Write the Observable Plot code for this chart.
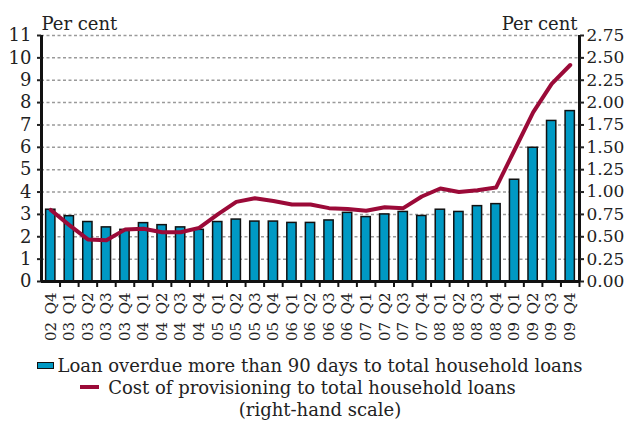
<!DOCTYPE html>
<html>
<head>
<meta charset="utf-8">
<script src="https://cdn.jsdelivr.net/npm/d3@7"></script>
<script src="https://cdn.jsdelivr.net/npm/@observablehq/plot@0.6"></script>
<style>
  body { margin: 0; background: #fff; }
  #wrap { position: relative; width: 630px; height: 425px; font-family: "DejaVu Serif", "Liberation Serif", serif; color: #222; }
  #legend { position: absolute; top: 355px; left: 0; width: 630px; font-size: 18px; line-height: 22px; text-align: center; }
  #legend div { position: relative; white-space: nowrap; }
  .sw-bar { display: inline-block; width: 15px; height: 5px; background: #0099c4; border: 1.5px solid #111; vertical-align: 3px; margin-right: 3px; }
  .sw-line { display: inline-block; width: 19px; height: 4px; background: #9b0a38; vertical-align: 5px; margin-right: 9px; }
  #chart svg text { font-family: "DejaVu Serif", "Liberation Serif", serif; }
</style>
</head>
<body>
<div id="wrap">
  <div id="chart"></div>
  <div id="legend">
    <div style="left:-5px"><span class="sw-bar"></span>Loan overdue more than 90 days to total household loans</div>
    <div style="left:-17px"><span class="sw-line"></span>Cost of provisioning to total household loans</div>
    <div style="left:5px">(right-hand scale)</div>
  </div>
</div>
<script>
const quarters = ["02 Q4","03 Q1","03 Q2","03 Q3","03 Q4","04 Q1","04 Q2","04 Q3","04 Q4",
  "05 Q1","05 Q2","05 Q3","05 Q4","06 Q1","06 Q2","06 Q3","06 Q4","07 Q1","07 Q2","07 Q3","07 Q4",
  "08 Q1","08 Q2","08 Q3","08 Q4","09 Q1","09 Q2","09 Q3","09 Q4"];
// Loans overdue > 90 days to total household loans (left scale, per cent)
const overdue = [3.21, 2.92, 2.66, 2.42, 2.31, 2.61, 2.52, 2.42, 2.31,
  2.66, 2.77, 2.68, 2.68, 2.62, 2.62, 2.73, 3.07, 2.88, 3.00, 3.11, 2.93,
  3.21, 3.11, 3.37, 3.46, 4.55, 5.98, 7.18, 7.62];
// Cost of provisioning to total household loans (right scale, per cent)
const provisioning = [0.80, 0.63, 0.47, 0.46, 0.58, 0.59, 0.55, 0.55, 0.60,
  0.75, 0.89, 0.93, 0.90, 0.86, 0.86, 0.82, 0.81, 0.79, 0.83, 0.82, 0.95,
  1.04, 1.00, 1.02, 1.05, 1.47, 1.89, 2.21, 2.42];
const leftTicks = [0, 1, 2, 3, 4, 5, 6, 7, 8, 9, 10, 11];
const gridTicks = [1, 2, 3, 4, 5, 6, 7, 8, 9, 10, 11];
const rightMax = 2.75, leftMax = 11;
const ratio = leftMax / rightMax;

const W = 630, H = 350, ML = 41, MR = 51, MT = 35, MB = 69;
const step = (W - ML - MR) / quarters.length;
const table = quarters.map((q, i) => ({q, overdue: overdue[i], prov: provisioning[i]}));

const chart = Plot.plot({
  width: W, height: H,
  marginLeft: ML, marginRight: MR, marginTop: MT, marginBottom: MB,
  style: {fontFamily: "'DejaVu Serif', 'Liberation Serif', serif", fontSize: "18px", color: "#222", background: "white", overflow: "visible"},
  x: {type: "band", domain: quarters, paddingInner: 0.5, paddingOuter: 0.25, round: false},
  y: {domain: [0, leftMax]},
  marks: [
    Plot.ruleY(gridTicks, {stroke: "#9a9a9a", strokeWidth: 1.5, strokeDasharray: "3,2.5"}),
    Plot.barY(table, {x: "q", y: "overdue", fill: "#0099c4", stroke: "#111", strokeWidth: 1.5}),
    Plot.lineY(table, {x: "q", y: d => d.prov * ratio, stroke: "#9b0a38", strokeWidth: 4, strokeLinejoin: "round"}),
    Plot.ruleY([0], {stroke: "#111", strokeWidth: 3}),
    Plot.ruleX([quarters[0]], {x: d => d, dx: -step / 2, y1: 0, y2: leftMax, stroke: "#111", strokeWidth: 3}),
    Plot.ruleX([quarters[quarters.length - 1]], {x: d => d, dx: step / 2, y1: 0, y2: leftMax, stroke: "#111", strokeWidth: 3}),
    Plot.ruleX(quarters, {x: d => d, dx: step / 2, y1: 0, y2: 0, insetBottom: -6, stroke: "#111", strokeWidth: 2}),
    Plot.axisY(leftTicks, {anchor: "left", tickSize: 4, tickPadding: 6, label: null, strokeWidth: 2, fontSize: 18}),
    Plot.axisY(leftTicks, {anchor: "right", tickSize: 4, tickPadding: 3, label: null, strokeWidth: 2, fontSize: 17,
      tickFormat: d => (d / ratio).toFixed(2)}),
    Plot.axisX({tickSize: 0, tickRotate: -90, tickPadding: 11, label: null, fontSize: 15,
      tickFormat: d => d.replace(" ", "\u2002")}),
    Plot.text(["Per cent"], {frameAnchor: "top-left", textAnchor: "start", lineAnchor: "bottom", dy: -6, fontSize: 18}),
    Plot.text(["Per cent"], {frameAnchor: "top-right", textAnchor: "end", lineAnchor: "bottom", dy: -6, dx: -2, fontSize: 18})
  ]
});
document.getElementById("chart").appendChild(chart);
</script>
</body>
</html>
